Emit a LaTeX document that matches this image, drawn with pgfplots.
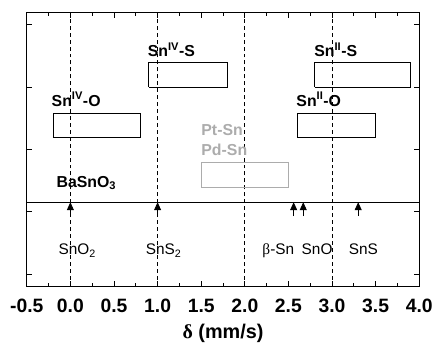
\documentclass[border=0pt]{standalone}
\usepackage{fontspec}
\setmainfont{Liberation Sans}
\newfontfamily\greekfont{Liberation Serif}
\usepackage{pgfplots}
\pgfplotsset{compat=1.18}
\usetikzlibrary{arrows.meta,calc}

\definecolor{lightgraytext}{RGB}{172,172,172}

\begin{document}
\begin{tikzpicture}
\begin{axis}[
  name=ax, at={(0,0)}, anchor=south west,
  scale only axis, width=396pt, height=276pt,
  xmin=-0.5, xmax=4, ymin=0, ymax=276,
  xtick={-0.5,0,0.5,1,1.5,2,2.5,3,3.5,4},
  minor x tick num=1,
  ytick={12,76,138,201,264}, yticklabels={},
  tick align=inside,
  major tick length=5pt, minor tick length=3pt,
  axis line style={line width=1.2pt},
  every tick/.style={line width=0.8pt, black},
  xticklabel style={
    font=\fontsize{19.5}{19.5}\selectfont\bfseries,
    yshift=-9pt,
    /pgf/number format/assume math mode=true,
    /pgf/number format/fixed,
    /pgf/number format/fixed zerofill,
    /pgf/number format/precision=1},
  xlabel={{\greekfont δ} (mm/s)},
  xlabel style={font=\fontsize{20}{20}\selectfont\bfseries, yshift=-5pt},
  clip=false,
]
% reference positions
\foreach \v in {0,1,2,3} {
  \edef\tmp{\noexpand\addplot[black, line width=0.8pt, dash pattern=on 4pt off 3pt]
    coordinates {(\v,0) (\v,276)};}
  \tmp
}
% baseline separating the compounds
\addplot[black, line width=1pt] coordinates {(-0.5,85) (4,85)};

% shift ranges
\addplot[black, line width=0.8pt] coordinates {(-0.2,150) (0.8,150) (0.8,175) (-0.2,175) (-0.2,150)};
\addplot[black, line width=0.8pt] coordinates {(0.9,201) (1.8,201) (1.8,226) (0.9,226) (0.9,201)};
\addplot[black, line width=0.8pt] coordinates {(2.8,201) (3.9,201) (3.9,226) (2.8,226) (2.8,201)};
\addplot[black, line width=0.8pt] coordinates {(2.6,150) (3.5,150) (3.5,175) (2.6,175) (2.6,150)};
\addplot[lightgraytext, line width=0.8pt] coordinates {(1.5,100) (2.5,100) (2.5,125) (1.5,125) (1.5,100)};

% reference compounds
\foreach \v in {0,1,2.56,2.67,3.3} {
  \edef\tmp{\noexpand\addplot[black, line width=0.9pt, -{Triangle[length=8pt,width=7pt]}]
    coordinates {(\v,71) (\v,85)};}
  \tmp
}

\begin{scope}[every node/.style={anchor=base west, inner sep=0pt,
    font=\fontsize{16}{16}\selectfont\bfseries}]
  \node at (axis cs:-0.216,182) {Sn\textsuperscript{IV}-O};
  \node at (axis cs:0.886,232) {Sn\textsuperscript{IV}-S};
  \node at (axis cs:2.795,232) {Sn\textsuperscript{II}-S};
  \node at (axis cs:2.59,182) {Sn\textsuperscript{II}-O};
  \node[text=lightgraytext] at (axis cs:1.5,152) {Pt-Sn};
  \node[text=lightgraytext] at (axis cs:1.5,132) {Pd-Sn};
  \node at (axis cs:-0.16,100) {BaSnO\textsubscript{3}};
\end{scope}
\begin{scope}[every node/.style={anchor=base west, inner sep=0pt,
    font=\fontsize{15.5}{15.5}\selectfont}]
  \node at (axis cs:-0.136,32) {SnO\textsubscript{2}};
  \node at (axis cs:0.864,32) {SnS\textsubscript{2}};
  \node at (axis cs:2.20,32) {{\greekfont β}-Sn};
  \node at (axis cs:2.65,32) {SnO};
  \node at (axis cs:3.19,32) {SnS};
\end{scope}
\end{axis}
\useasboundingbox ($(ax.south west)+(-27pt,-63pt)$) rectangle ($(ax.north east)+(13pt,13pt)$);
\end{tikzpicture}
\end{document}
